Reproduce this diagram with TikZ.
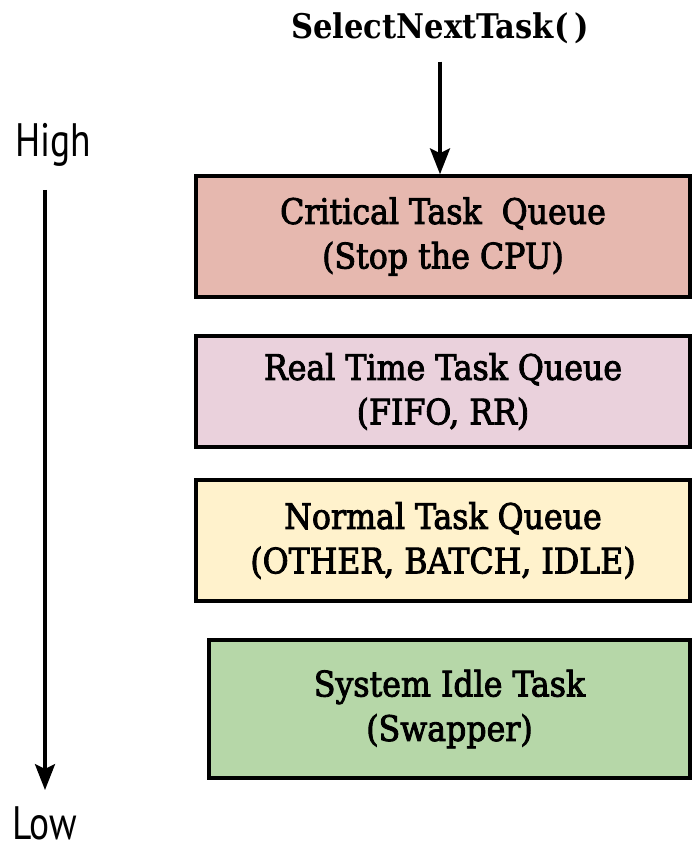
\documentclass[tikz,border=0pt]{standalone}
\usepackage{fontspec}
\setmainfont{DejaVu Serif Condensed}
\newfontfamily\queuefont{DejaVu Serif Condensed}[FakeBold=2.5]
\newfontfamily\levelfont{PT Sans}[FakeStretch=0.8]
\usetikzlibrary{arrows.meta}

\definecolor{critfill}{HTML}{E6B8AF}
\definecolor{rtfill}{HTML}{EAD1DC}
\definecolor{normfill}{HTML}{FFF2CC}
\definecolor{idlefill}{HTML}{B6D7A8}

\begin{document}
\begin{tikzpicture}[
    x=0.03cm, y=-0.03cm,
    queue/.style={draw=black, line width=3pt, align=center, inner sep=0pt,
        font=\queuefont\fontsize{30}{38}\selectfont},
    callarrow/.style={-{Stealth[length=22pt, width=17pt, inset=4pt]}, line width=3pt},
    level/.style={font=\levelfont\fontsize{40}{44}\selectfont}
]
    \useasboundingbox (0,0) rectangle (692,851);

    % Queues
    \node[queue, fill=critfill, minimum width=494*0.03cm, minimum height=121*0.03cm]
        (critical) at (443,236.5) {Critical Task\ \ Queue\\(Stop the CPU)};
    \node[queue, fill=rtfill, minimum width=494*0.03cm, minimum height=111*0.03cm]
        (realtime) at (443,391.5) {Real Time Task Queue\\(FIFO, RR)};
    \node[queue, fill=normfill, minimum width=494*0.03cm, minimum height=121*0.03cm]
        (normal) at (443,540.5) {Normal Task Queue\\(OTHER, BATCH, IDLE)};
    \node[queue, fill=idlefill, minimum width=481*0.03cm, minimum height=138*0.03cm]
        (idle) at (449.5,709) {System Idle Task\\(Swapper)};

    % Scheduler call
    \node[font=\bfseries\fontsize{29}{34}\selectfont] (select) at (440,28) {SelectNextTask(\,)};
    \draw[callarrow, shorten <=12pt] (select) -- (critical.north -| select);

    % Priority
    \node[level] (high) at (53,145) {High};
    \node[level] (low) at (45,823) {Low};
    \coordinate (prio top) at (45,190);
    \coordinate (prio bottom) at (45,790);
    \draw[callarrow] (prio top) -- (prio bottom);
\end{tikzpicture}
\end{document}
